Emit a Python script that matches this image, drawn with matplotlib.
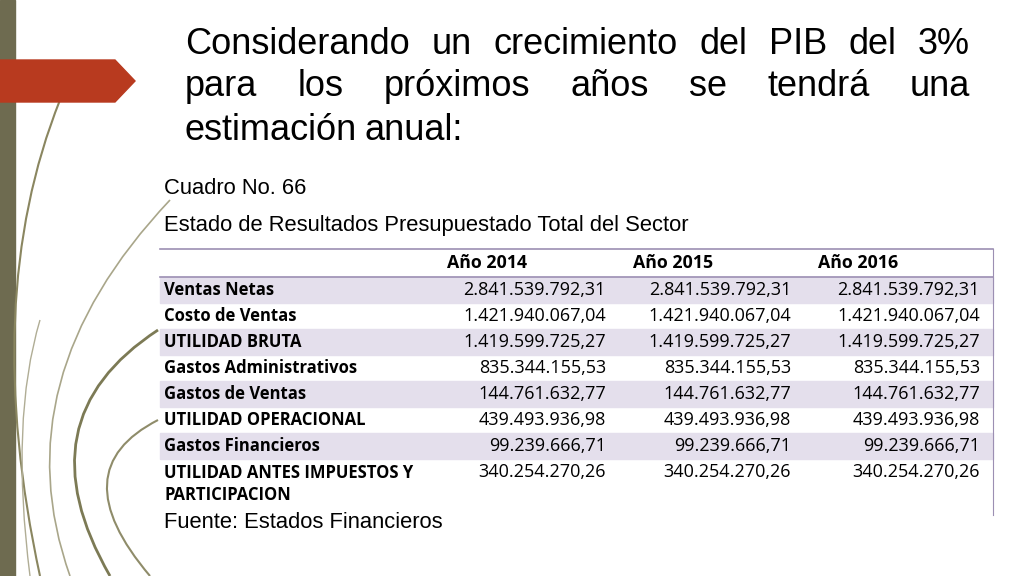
import matplotlib
matplotlib.use("Agg")
import matplotlib.pyplot as plt
from matplotlib.patches import Rectangle, Polygon, PathPatch
from matplotlib.path import Path

title_lines = ["Considerando un crecimiento del PIB del 3%",
               "para los próximos años se tendrá una",
               "estimación anual:"]
cuadro = "Cuadro No. 66"
subtitle = "Estado de Resultados Presupuestado Total del Sector"
years = ["Año 2014", "Año 2015", "Año 2016"]
labels = ["Ventas Netas", "Costo de Ventas", "UTILIDAD BRUTA", "Gastos Administrativos",
          "Gastos de Ventas", "UTILIDAD OPERACIONAL", "Gastos Financieros",
          "UTILIDAD ANTES IMPUESTOS Y\nPARTICIPACION"]
v2014 = ["2.841.539.792,31", "1.421.940.067,04", "1.419.599.725,27", "835.344.155,53",
         "144.761.632,77", "439.493.936,98", "99.239.666,71", "340.254.270,26"]
v2015 = list(v2014)
v2016 = list(v2014)
source = "Fuente: Estados Financieros"

fig = plt.figure(figsize=(10.24, 5.76), dpi=100)
ax = fig.add_axes([0, 0, 1, 1])
ax.set_xlim(0, 1024); ax.set_ylim(576, 0); ax.axis("off")

# decorative
ax.add_patch(Rectangle((0, 0), 15, 576, color="#6e6b50"))
for (p0, p1, p2, c, lw) in [((40, 576), (-20, 300), (60, 100), "#8a8660", 1.5),
                            ((70, 576), (0, 380), (170, 200), "#a9a68a", 1.2),
                            ((110, 576), (20, 420), (158, 330), "#7c7a55", 2),
                            ((30, 576), (10, 420), (40, 320), "#b0ad95", 1),
                            ((150, 576), (60, 470), (158, 420), "#8f8c6a", 1.5)]:
    ax.add_patch(PathPatch(Path([p0, p1, p2], [1, 3, 3]), fill=False, ec=c, lw=lw))
ax.add_patch(Polygon([(0, 60), (115, 60), (135, 81), (115, 102), (0, 102)], color="#b83a1f"))

# title justified
fig.canvas.draw()
r = fig.canvas.get_renderer()
x0, x1 = 185, 970
for i, line in enumerate(title_lines):
    y = 44 + i * 43
    words = line.split()
    ts = [ax.text(0, y, w, fontsize=26, family="Liberation Sans", va="center") for w in words]
    ws = [t.get_window_extent(r).width for t in ts]
    if i < len(title_lines) - 1:
        gap = (x1 - x0 - sum(ws)) / (len(words) - 1)
    else:
        gap = 7
    x = x0
    for t, w in zip(ts, ws):
        t.set_x(x); x += w + gap

# table box
ax.add_patch(Rectangle((158, 155), 837, 395, color="white", zorder=0))
ax.text(164, 188, cuadro, fontsize=15.8, family="Liberation Sans", va="center")
ax.text(164, 225, subtitle, fontsize=15.8, family="Liberation Sans", va="center")
ax.plot([160, 993], [249, 249], color="#9c8fb3", lw=1.2)
ax.plot([160, 993], [277, 277], color="#9c8fb3", lw=1.2)
ax.plot([993, 993], [249, 515], color="#9c8fb3", lw=0.8)
for x, yr in zip([447, 633, 818], years):
    ax.text(x, 263, yr, fontsize=12.8, weight="bold", family="Open Sans", va="center")
ys = [290, 316, 342, 368, 394, 420, 446, 472]
for k, (lab, a, b, c, y) in enumerate(zip(labels, v2014, v2015, v2016, ys)):
    if k % 2 == 0:
        ax.add_patch(Rectangle((160, y - 13), 833, 26, color="#e4dfec", zorder=0.5))
    ax.text(164, y - (0 if "\n" not in lab else -12), lab, fontsize=12, weight="bold",
            family="Open Sans", va="center", linespacing=1.35)
    for xr, v in zip([606, 791, 980], [a, b, c]):
        ax.text(xr, y, v, fontsize=13, family="Open Sans", va="center", ha="right")
ax.text(164, 522, source, fontsize=15.8, family="Liberation Sans", va="center")
fig.savefig("out.png", dpi=100)
